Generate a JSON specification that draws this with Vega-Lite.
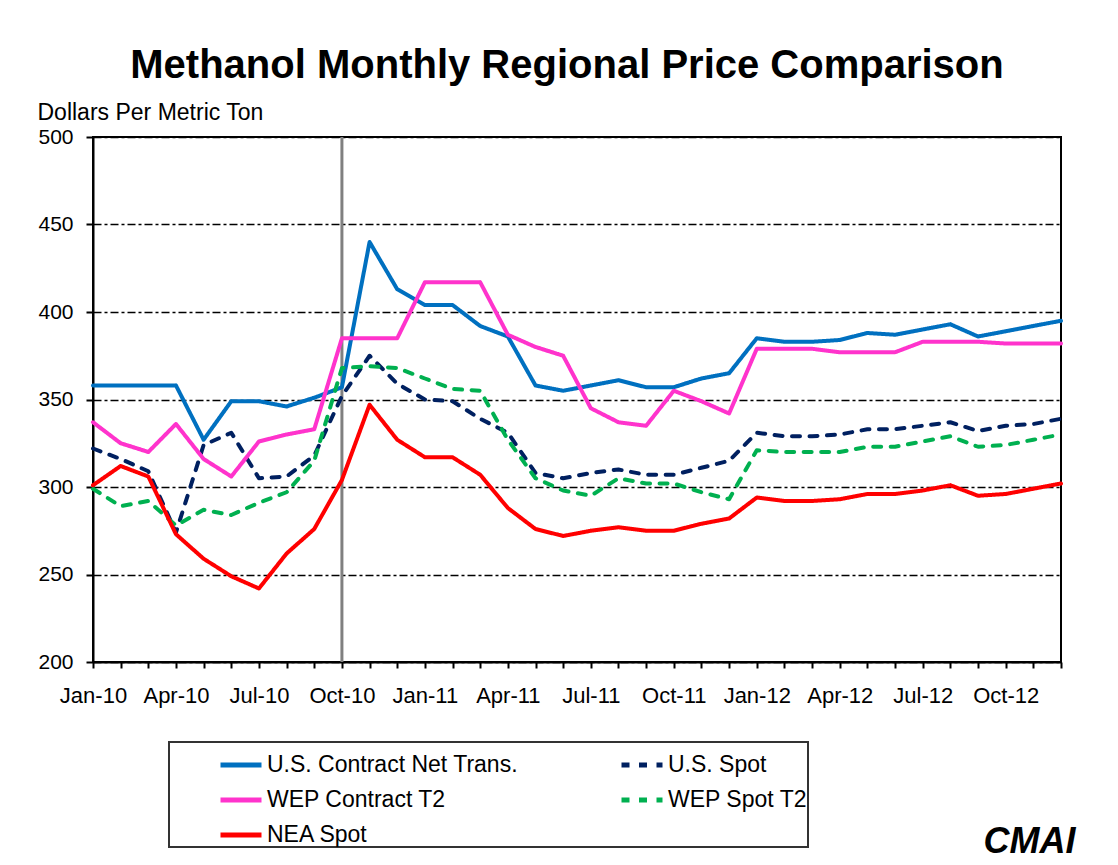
{
  "$schema": "https://vega.github.io/schema/vega-lite/v6.json",
  "width": 968,
  "height": 525,
  "autosize": "none",
  "padding": {"left": 93, "top": 137, "right": 57, "bottom": 203},
  "background": "white",
  "config": {
    "font": "Liberation Sans",
    "view": {"stroke": "black", "strokeWidth": 2},
    "legend": {"strokeWidth": 2}
  },
  "title": {
    "text": "Methanol Monthly Regional Price Comparison",
    "font": "Liberation Sans",
    "fontSize": 40,
    "fontWeight": "bold",
    "color": "black",
    "anchor": "middle",
    "frame": "group",
    "dx": -10,
    "offset": -17,
    "baseline": "alphabetic"
  },
  "datasets": {
    "prices": [
      {"month": "Jan-10", "USC": 358, "USS": 322, "WEPC": 337, "WEPS": 299, "NEA": 301},
      {"month": "Feb-10", "USC": 358, "USS": 316, "WEPC": 325, "WEPS": 289, "NEA": 312},
      {"month": "Mar-10", "USC": 358, "USS": 309, "WEPC": 320, "WEPS": 292, "NEA": 306},
      {"month": "Apr-10", "USC": 358, "USS": 274, "WEPC": 336, "WEPS": 278, "NEA": 273},
      {"month": "May-10", "USC": 327, "USS": 324, "WEPC": 316, "WEPS": 287, "NEA": 259},
      {"month": "Jun-10", "USC": 349, "USS": 331, "WEPC": 306, "WEPS": 284, "NEA": 249},
      {"month": "Jul-10", "USC": 349, "USS": 305, "WEPC": 326, "WEPS": 291, "NEA": 242},
      {"month": "Aug-10", "USC": 346, "USS": 306, "WEPC": 330, "WEPS": 297, "NEA": 262},
      {"month": "Sep-10", "USC": 351, "USS": 318, "WEPC": 333, "WEPS": 315, "NEA": 276},
      {"month": "Oct-10", "USC": 357, "USS": 352, "WEPC": 385, "WEPS": 368, "NEA": 304},
      {"month": "Nov-10", "USC": 440, "USS": 375, "WEPC": 385, "WEPS": 369, "NEA": 347},
      {"month": "Dec-10", "USC": 413, "USS": 359, "WEPC": 385, "WEPS": 368, "NEA": 327},
      {"month": "Jan-11", "USC": 404, "USS": 350, "WEPC": 417, "WEPS": 362, "NEA": 317},
      {"month": "Feb-11", "USC": 404, "USS": 349, "WEPC": 417, "WEPS": 356, "NEA": 317},
      {"month": "Mar-11", "USC": 392, "USS": 339, "WEPC": 417, "WEPS": 355, "NEA": 307},
      {"month": "Apr-11", "USC": 386, "USS": 331, "WEPC": 387, "WEPS": 327, "NEA": 288},
      {"month": "May-11", "USC": 358, "USS": 308, "WEPC": 380, "WEPS": 305, "NEA": 276},
      {"month": "Jun-11", "USC": 355, "USS": 305, "WEPC": 375, "WEPS": 298, "NEA": 272},
      {"month": "Jul-11", "USC": 358, "USS": 308, "WEPC": 345, "WEPS": 295, "NEA": 275},
      {"month": "Aug-11", "USC": 361, "USS": 310, "WEPC": 337, "WEPS": 305, "NEA": 277},
      {"month": "Sep-11", "USC": 357, "USS": 307, "WEPC": 335, "WEPS": 302, "NEA": 275},
      {"month": "Oct-11", "USC": 357, "USS": 307, "WEPC": 355, "WEPS": 302, "NEA": 275},
      {"month": "Nov-11", "USC": 362, "USS": 311, "WEPC": 349, "WEPS": 297, "NEA": 279},
      {"month": "Dec-11", "USC": 365, "USS": 315, "WEPC": 342, "WEPS": 293, "NEA": 282},
      {"month": "Jan-12", "USC": 385, "USS": 331, "WEPC": 379, "WEPS": 321, "NEA": 294},
      {"month": "Feb-12", "USC": 383, "USS": 329, "WEPC": 379, "WEPS": 320, "NEA": 292},
      {"month": "Mar-12", "USC": 383, "USS": 329, "WEPC": 379, "WEPS": 320, "NEA": 292},
      {"month": "Apr-12", "USC": 384, "USS": 330, "WEPC": 377, "WEPS": 320, "NEA": 293},
      {"month": "May-12", "USC": 388, "USS": 333, "WEPC": 377, "WEPS": 323, "NEA": 296},
      {"month": "Jun-12", "USC": 387, "USS": 333, "WEPC": 377, "WEPS": 323, "NEA": 296},
      {"month": "Jul-12", "USC": 390, "USS": 335, "WEPC": 383, "WEPS": 326, "NEA": 298},
      {"month": "Aug-12", "USC": 393, "USS": 337, "WEPC": 383, "WEPS": 329, "NEA": 301},
      {"month": "Sep-12", "USC": 386, "USS": 332, "WEPC": 383, "WEPS": 323, "NEA": 295},
      {"month": "Oct-12", "USC": 389, "USS": 335, "WEPC": 382, "WEPS": 324, "NEA": 296},
      {"month": "Nov-12", "USC": 392, "USS": 336, "WEPC": 382, "WEPS": 327, "NEA": 299},
      {"month": "Dec-12", "USC": 395, "USS": 339, "WEPC": 382, "WEPS": 330, "NEA": 302}
    ],
    "marker": [{"month": "Oct-10"}]
  },
  "layer": [
    {
      "data": {"name": "marker"},
      "mark": {"type": "rule", "color": "#808080", "strokeWidth": 3},
      "encoding": {
        "x": {
          "field": "month",
          "type": "ordinal",
          "scale": {"type": "point", "padding": 0, "domain": ["Jan-10","Feb-10","Mar-10","Apr-10","May-10","Jun-10","Jul-10","Aug-10","Sep-10","Oct-10","Nov-10","Dec-10","Jan-11","Feb-11","Mar-11","Apr-11","May-11","Jun-11","Jul-11","Aug-11","Sep-11","Oct-11","Nov-11","Dec-11","Jan-12","Feb-12","Mar-12","Apr-12","May-12","Jun-12","Jul-12","Aug-12","Sep-12","Oct-12","Nov-12","Dec-12"]}
        }
      }
    },
    {
      "data": {"name": "prices"},
      "transform": [
        {"fold": ["USC", "USS", "WEPC", "WEPS", "NEA"], "as": ["series", "price"]}
      ],
      "mark": {"type": "line", "strokeWidth": 4, "strokeCap": "round", "strokeJoin": "round"},
      "encoding": {
        "x": {
          "field": "month",
          "type": "ordinal",
          "scale": {"type": "point", "padding": 0, "domain": ["Jan-10","Feb-10","Mar-10","Apr-10","May-10","Jun-10","Jul-10","Aug-10","Sep-10","Oct-10","Nov-10","Dec-10","Jan-11","Feb-11","Mar-11","Apr-11","May-11","Jun-11","Jul-11","Aug-11","Sep-11","Oct-11","Nov-11","Dec-11","Jan-12","Feb-12","Mar-12","Apr-12","May-12","Jun-12","Jul-12","Aug-12","Sep-12","Oct-12","Nov-12","Dec-12"]},
          "axis": {
            "title": "CMAI",
            "titleX": 936,
            "titleY": 190,
            "titleFont": "Liberation Sans",
            "titleFontSize": 36,
            "titleFontStyle": "italic",
            "titleFontWeight": "bold",
            "titleAlign": "center",
            "titleBaseline": "alphabetic",
            "titleColor": "black",
            "labelAngle": 0,
            "labelAlign": "center",
            "labelBaseline": "top",
            "labelFontSize": 22,
            "labelColor": "black",
            "labelPadding": 17,
            "labelOverlap": false,
            "labelExpr": "indexof(['Jan','Apr','Jul','Oct'], substring(datum.value, 0, 3)) >= 0 ? datum.value : ''",
            "tickSize": 6,
            "tickWidth": 2,
            "tickColor": "black",
            "domainColor": "black",
            "domainWidth": 2,
            "grid": false
          }
        },
        "y": {
          "field": "price",
          "type": "quantitative",
          "scale": {"domain": [200, 500], "nice": false, "zero": false},
          "axis": {
            "values": [200, 250, 300, 350, 400, 450, 500],
            "title": "Dollars Per Metric Ton",
            "titleAngle": 0,
            "titleAlign": "left",
            "titleBaseline": "alphabetic",
            "titleX": -56,
            "titleY": -18,
            "titleFontSize": 23,
            "titleFontWeight": "normal",
            "titleColor": "black",
            "labelFontSize": 21,
            "labelColor": "black",
            "labelPadding": 13,
            "tickSize": 7,
            "tickWidth": 2,
            "tickColor": "black",
            "domainColor": "black",
            "domainWidth": 2,
            "grid": true,
            "gridColor": "black",
            "gridDash": [8, 3, 3, 3],
            "gridWidth": 1.5
          }
        },
        "color": {
          "field": "series",
          "type": "nominal",
          "scale": {
            "domain": ["USC", "WEPC", "NEA", "USS", "WEPS"],
            "range": ["#0070C0", "#FF33CC", "#FF0000", "#002060", "#00B050"]
          },
          "legend": {
            "orient": "none",
            "legendX": 76,
            "legendY": 605,
            "columns": 2,
            "title": "\u00a0",
            "titleOrient": "left",
            "titleFontSize": 8,
            "titlePadding": 49,
            "padding": 0,
            "strokeColor": "#333333",
            "fillColor": "white",
            "symbolType": "stroke",
            "symbolSize": 1681,
            "symbolStrokeWidth": 5,
            "labelFontSize": 23,
            "labelColor": "black",
            "labelLimit": 500,
            "labelOffset": 3,
            "labelExpr": "datum.label == 'USC' ? 'U.S. Contract Net Trans.' : datum.label == 'USS' ? 'U.S. Spot' : datum.label == 'WEPC' ? 'WEP Contract T2' : datum.label == 'WEPS' ? 'WEP Spot T2\u2003\u2003\u2003\u2003\u2003\u2003' : 'NEA Spot'",
            "columnPadding": 93,
            "rowPadding": -12.5
          }
        },
        "strokeDash": {
          "field": "series",
          "type": "nominal",
          "scale": {
            "domain": ["USC", "WEPC", "NEA", "USS", "WEPS"],
            "range": [[1, 0], [1, 0], [1, 0], [8, 9.5], [8, 9.5]]
          },
          "legend": {
            "orient": "none",
            "legendX": 76,
            "legendY": 605,
            "columns": 2,
            "title": "\u00a0",
            "titleOrient": "left",
            "titleFontSize": 8,
            "titlePadding": 49,
            "padding": 0,
            "strokeColor": "#333333",
            "fillColor": "white",
            "symbolType": "stroke",
            "symbolSize": 1681,
            "symbolStrokeWidth": 5,
            "labelFontSize": 23,
            "labelColor": "black",
            "labelLimit": 500,
            "labelOffset": 3,
            "labelExpr": "datum.label == 'USC' ? 'U.S. Contract Net Trans.' : datum.label == 'USS' ? 'U.S. Spot' : datum.label == 'WEPC' ? 'WEP Contract T2' : datum.label == 'WEPS' ? 'WEP Spot T2\u2003\u2003\u2003\u2003\u2003\u2003' : 'NEA Spot'",
            "columnPadding": 93,
            "rowPadding": -12.5
          }
        }
      }
    }
  ]
}
